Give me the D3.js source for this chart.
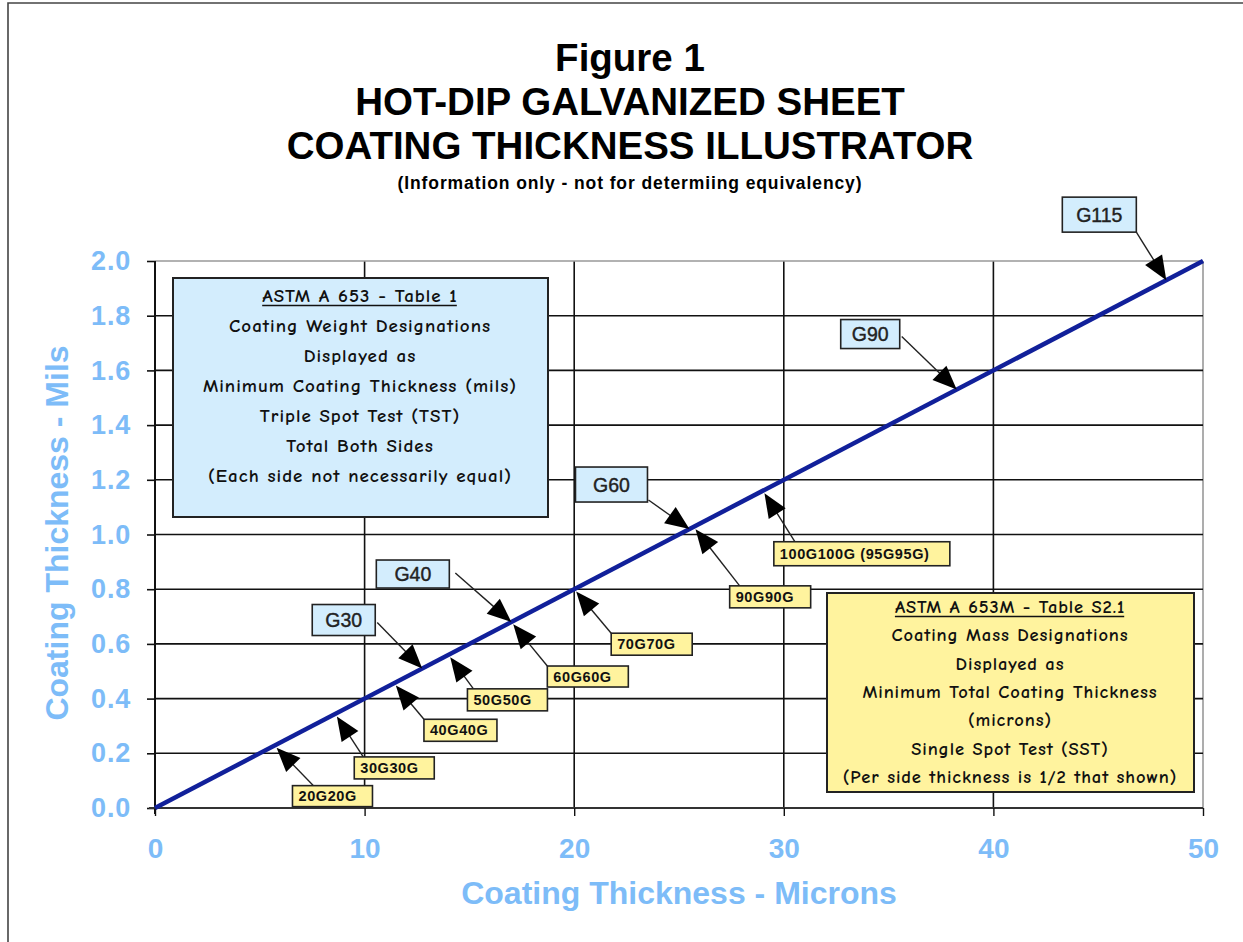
<!DOCTYPE html>
<html>
<head>
<meta charset="utf-8">
<script src="https://cdn.jsdelivr.net/npm/d3@7"></script>
<style>
  html, body { margin: 0; padding: 0; background: #fff; }
  svg { display: block; }
</style>
</head>
<body>
<svg id="chart" width="1243" height="942"></svg>
<script>
// ---------------- DATA ----------------
const xTicks = [0, 10, 20, 30, 40, 50];
const yTicks = [0.0, 0.2, 0.4, 0.6, 0.8, 1.0, 1.2, 1.4, 1.6, 1.8, 2.0];
const lineMicrons = [0, 50];
const lineMils = [0, 2.0];

const imperialLabels = ["G30", "G40", "G60", "G90", "G115"];
const imperialMils = [0.51, 0.68, 1.02, 1.53, 1.93];

const metricLabels = ["20G20G", "30G30G", "40G40G", "50G50G", "60G60G", "70G70G", "90G90G", "100G100G (95G95G)"];
const metricMicrons = [5.7, 8.6, 11.4, 14.0, 17.0, 20.0, 25.7, 29.0];

const titleLines = ["Figure 1", "HOT-DIP GALVANIZED SHEET", "COATING THICKNESS ILLUSTRATOR"];
const subtitle = "(Information only - not for determiing equivalency)";
const xTitle = "Coating Thickness - Microns";
const yTitle = "Coating Thickness - Mils";

const leftBoxLines = ["ASTM A 653 - Table 1", "Coating Weight Designations", "Displayed as",
  "Minimum Coating Thickness (mils)", "Triple Spot Test (TST)", "Total Both Sides",
  "(Each side not necessarily equal)"];
const rightBoxLines = ["ASTM A 653M - Table S2.1", "Coating Mass Designations", "Displayed as",
  "Minimum Total Coating Thickness", "(microns)", "Single Spot Test (SST)",
  "(Per side thickness is 1/2 that shown)"];

// ---------------- LAYOUT (pixel offsets of callout boxes relative to arrow tips) ----------------
// [dx, dy, w, h, startX, startY]  (box top-left relative to tip; arrow start relative to box)
const imperialLayout = [
  [-110, -64, 63, 31, 65, 18],
  [-135, -62, 73, 28, 79, 13],
  [-114, -62, 72, 35, 73, 33],
  [-116, -70, 59, 29, 61, 17],
  [-104, -83, 74, 35, 74, 35]
];
const metricLayout = [
  [18, 40, 80, 21, 21, 0],
  [19, 43, 80, 22, 9, 0],
  [30, 36, 73, 22, 0, 0],
  [19, 34, 80, 22, 6, 0],
  [36, 44, 81, 21, 0, 0],
  [37, 44, 81, 22, 0, 0],
  [36, 59, 81, 22, 10, 0],
  [11, 51, 176, 24, 21, 0]
];

// ---------------- DRAW ----------------
const svg = d3.select("#chart");
const W = 1243, H = 942;
const x = d3.scaleLinear().domain([0, 50]).range([155, 1203]);
const y = d3.scaleLinear().domain([0, 2.0]).range([808, 261]);
const milsAt = d3.scaleLinear().domain(lineMicrons).range(lineMils);
const micronsAt = d3.scaleLinear().domain(lineMils).range(lineMicrons);

const tickBlue = "#7dbcf8";
const sans = "'Liberation Sans', Arial, Helvetica, sans-serif";
const comic = "'Comic Sans MS', 'Comic Neue', 'DejaVu Sans', sans-serif";

svg.append("rect").attr("width", W).attr("height", H).attr("fill", "#fff");

// outer frame
svg.append("path")
  .attr("d", `M8,${H + 5} L8,3 L${W + 5},3`)
  .attr("fill", "none").attr("stroke", "#444").attr("stroke-width", 1.6);

// titles
const titleY = [71, 115, 159];
titleLines.forEach((t, i) => {
  svg.append("text").attr("x", 630).attr("y", titleY[i])
    .attr("text-anchor", "middle").attr("font-family", sans)
    .attr("font-weight", "bold").attr("font-size", 38.5)
    .attr("fill", "#000").text(t);
});
svg.append("text").attr("x", 630).attr("y", 189)
  .attr("text-anchor", "middle").attr("font-family", sans)
  .attr("font-weight", "bold").attr("font-size", 17.5).attr("letter-spacing", 0.9)
  .attr("fill", "#000").text(subtitle);

// grid
const grid = svg.append("g");
grid.selectAll(".gx").data(xTicks.filter(d => d > 0)).join("line")
  .attr("x1", d => x(d)).attr("x2", d => x(d))
  .attr("y1", y(2.0)).attr("y2", y(0))
  .attr("stroke", d => d === 50 ? "#999" : "#111").attr("stroke-width", 1.6);
grid.selectAll(".gy").data(yTicks.filter(d => d > 0)).join("line")
  .attr("x1", x(0)).attr("x2", x(50))
  .attr("y1", d => y(d)).attr("y2", d => y(d))
  .attr("stroke", d => d === 2.0 ? "#999" : "#111").attr("stroke-width", 1.6);

// axes
const yAxis = d3.axisLeft(y).tickValues(yTicks).tickSize(8).tickFormat(d3.format(".1f"));
const gy = svg.append("g").attr("transform", `translate(${x(0)},0)`).call(yAxis);
gy.select(".domain").attr("stroke", "#111").attr("stroke-width", 2).attr("d", `M0,${y(2.0)}V${y(0) + 6}`);
gy.selectAll(".tick line").attr("stroke", "#111").attr("stroke-width", 1.6);
gy.selectAll(".tick text").attr("x", -24).attr("font-family", sans).attr("font-weight", "bold")
  .attr("font-size", 27).attr("letter-spacing", 0.8).attr("fill", tickBlue);

const xAxis = d3.axisBottom(x).tickValues(xTicks).tickSize(8).tickFormat(d3.format("d"));
const gx = svg.append("g").attr("transform", `translate(0,${y(0)})`).call(xAxis);
gx.select(".domain").attr("stroke", "#333").attr("stroke-width", 2).attr("d", `M${x(0) - 6},0H${x(50)}`);
gx.selectAll(".tick line").attr("stroke", "#111").attr("stroke-width", 1.4);
gx.selectAll(".tick text").attr("y", 30).attr("dy", "0.71em").attr("font-family", sans)
  .attr("font-weight", "bold").attr("font-size", 28).attr("fill", tickBlue);

// axis titles
svg.append("text").attr("x", 679).attr("y", 904).attr("text-anchor", "middle")
  .attr("font-family", sans).attr("font-weight", "bold").attr("font-size", 32)
  .attr("fill", tickBlue).text(xTitle);
svg.append("text").attr("transform", `translate(68,533) rotate(-90)`).attr("text-anchor", "middle")
  .attr("font-family", sans).attr("font-weight", "bold").attr("font-size", 32)
  .attr("fill", tickBlue).text(yTitle);

// the thickness line
const lineData = lineMicrons.map((m, i) => [m, lineMils[i]]);
svg.append("path").datum(lineData)
  .attr("d", d3.line().x(d => x(d[0])).y(d => y(d[1])))
  .attr("fill", "none").attr("stroke", "#11209a").attr("stroke-width", 4.5);

// arrow helper
function arrow(g, s, t, shorten) {
  const dx = t[0] - s[0], dy = t[1] - s[1], L = Math.hypot(dx, dy);
  const ux = dx / L, uy = dy / L;
  const tip = [t[0] - ux * shorten, t[1] - uy * shorten];
  const hl = 24, hw = 10;
  const base = [tip[0] - ux * hl, tip[1] - uy * hl];
  g.append("line").attr("x1", s[0]).attr("y1", s[1]).attr("x2", base[0] + ux * 4).attr("y2", base[1] + uy * 4)
    .attr("stroke", "#222").attr("stroke-width", 1.4);
  g.append("path")
    .attr("d", `M${tip[0]},${tip[1]}L${base[0] - uy * hw},${base[1] + ux * hw}L${base[0] + uy * hw},${base[1] - ux * hw}Z`)
    .attr("fill", "#000");
}

const ann = svg.append("g");

// imperial (blue) callouts
imperialLabels.forEach((lab, i) => {
  const mils = imperialMils[i];
  const tip = [x(micronsAt(mils)), y(mils)];
  const [dx, dy, w, h, sx, sy] = imperialLayout[i];
  const bx = tip[0] + dx, by = tip[1] + dy;
  arrow(ann, [bx + sx, by + sy], tip, 0);
  ann.append("rect").attr("x", bx).attr("y", by).attr("width", w).attr("height", h)
    .attr("fill", "#d3edfd").attr("stroke", "#222").attr("stroke-width", 1.6);
  ann.append("text").attr("x", bx + w / 2).attr("y", by + h / 2 + 7)
    .attr("text-anchor", "middle").attr("font-family", sans).attr("font-size", 19.5)
    .attr("fill", "#222").attr("stroke", "#222").attr("stroke-width", 0.4).text(lab);
});

// metric (yellow) callouts
metricLabels.forEach((lab, i) => {
  const mic = metricMicrons[i];
  const tip = [x(mic), y(milsAt(mic))];
  const [dx, dy, w, h, sx, sy] = metricLayout[i];
  const bx = tip[0] + dx, by = tip[1] + dy;
  arrow(ann, [bx + sx, by + sy], tip, 3);
  ann.append("rect").attr("x", bx).attr("y", by).attr("width", w).attr("height", h)
    .attr("fill", "#fff39e").attr("stroke", "#222").attr("stroke-width", 1.6);
  ann.append("text").attr("x", bx + 6).attr("y", by + h / 2 + 5)
    .attr("font-family", sans).attr("font-size", 14.5).attr("font-weight", "bold")
    .attr("letter-spacing", 0.6).attr("fill", "#111").text(lab);
});

// info boxes
function infoBox(lines, bx, by, w, h, fill, cx, firstBase, step, fs, ls) {
  const g = svg.append("g");
  g.append("rect").attr("x", bx).attr("y", by).attr("width", w).attr("height", h)
    .attr("fill", fill).attr("stroke", "#222").attr("stroke-width", 2);
  lines.forEach((t, i) => {
    const tx = g.append("text").attr("x", cx).attr("y", firstBase + i * step)
      .attr("text-anchor", "middle").attr("font-family", comic).attr("font-size", fs)
      .attr("font-weight", "bold").attr("letter-spacing", ls)
      .attr("fill", "#111").text(t);
    if (i === 0) {
      const bb = tx.node().getBBox();
      g.append("line").attr("x1", bb.x).attr("x2", bb.x + bb.width - ls)
        .attr("y1", firstBase + 3.5).attr("y2", firstBase + 3.5)
        .attr("stroke", "#111").attr("stroke-width", 1.6);
    }
  });
}
infoBox(leftBoxLines, 173, 278, 375, 239, "#d3edfd", 360, 302, 30, 19, 1);
infoBox(rightBoxLines, 827, 593, 367, 199, "#fff39e", 1010, 613, 28.3, 18.5, 0.9);
</script>
</body>
</html>
